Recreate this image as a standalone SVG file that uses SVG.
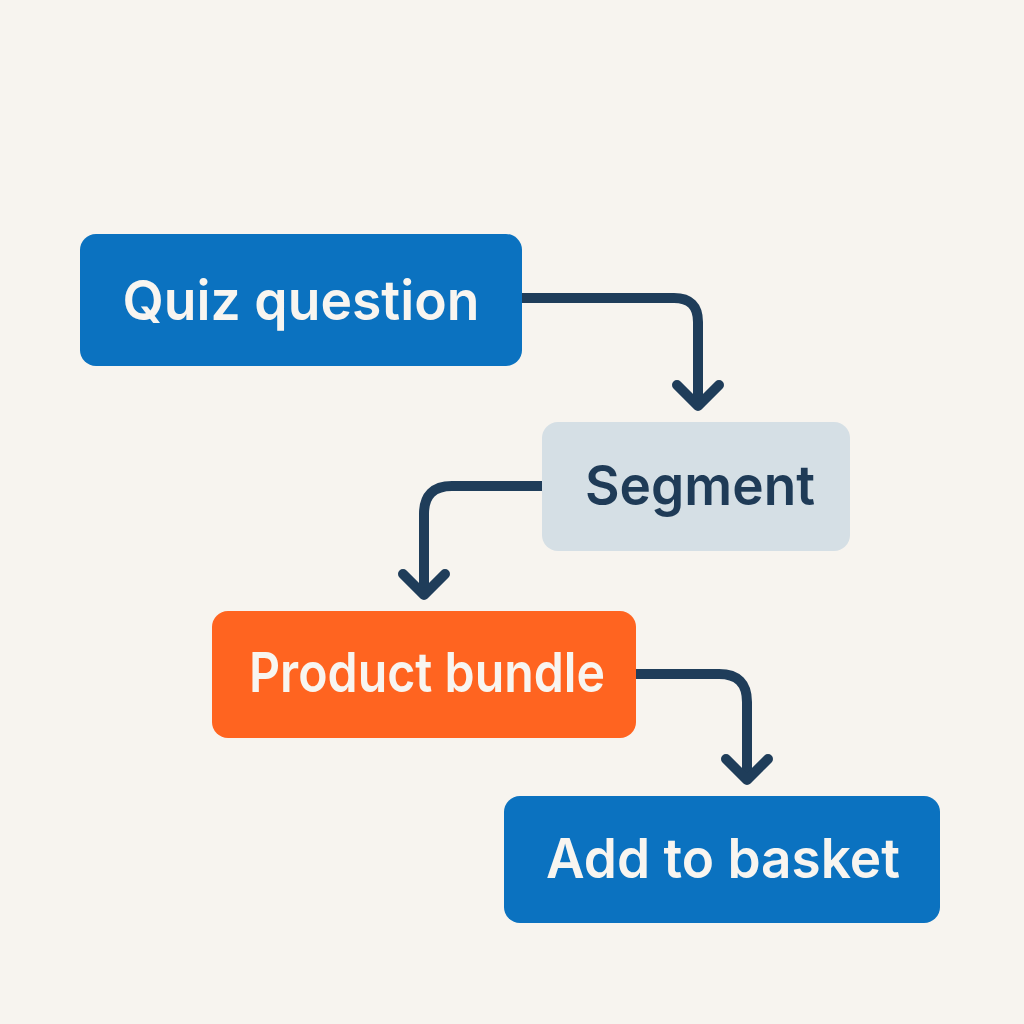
<svg xmlns="http://www.w3.org/2000/svg" width="1024" height="1024" viewBox="0 0 1024 1024">
<defs>
<style>
.lbl{font-family:Inter,"Liberation Sans",sans-serif;font-weight:600;font-size:55px;text-anchor:middle}
.w{fill:#F8F5F0}
.d{fill:#1F3B57}
.conn{fill:none;stroke:#1F3D5A;stroke-width:10;stroke-linecap:round;stroke-linejoin:round}
</style>
</defs>
<rect width="1024" height="1024" fill="#F7F4EF"/>
<g id="connectors" class="conn">
<path d="M522 298 H674 Q698 298 698 322 V405"/>
<path d="M677 385 L698 406 L719 385"/>
<path d="M542 486 H452 Q424 486 424 514 V594"/>
<path d="M403 574 L424 595 L445 574"/>
<path d="M636 674 H719 Q747 674 747 702 V779"/>
<path d="M726 759 L747 780 L768 759"/>
</g>
<g id="node-quiz">
<rect x="80" y="234" width="442" height="132" rx="16" fill="#0B72C0"/>
<text class="lbl w" x="301" y="320" textLength="357" lengthAdjust="spacingAndGlyphs">Quiz question</text>
</g>
<g id="node-segment">
<rect x="542" y="422" width="308" height="129" rx="16" fill="#D5DFE5"/>
<text class="lbl d" x="700" y="505" textLength="230" lengthAdjust="spacingAndGlyphs">Segment</text>
</g>
<g id="node-bundle">
<rect x="212" y="611" width="424" height="127" rx="16" fill="#FF6420"/>
<text class="lbl w" x="427" y="692" textLength="356" lengthAdjust="spacingAndGlyphs">Product bundle</text>
</g>
<g id="node-basket">
<rect x="504" y="796" width="436" height="127" rx="16" fill="#0B72C0"/>
<text class="lbl w" x="723" y="878" textLength="354" lengthAdjust="spacingAndGlyphs">Add to basket</text>
</g>
</svg>
